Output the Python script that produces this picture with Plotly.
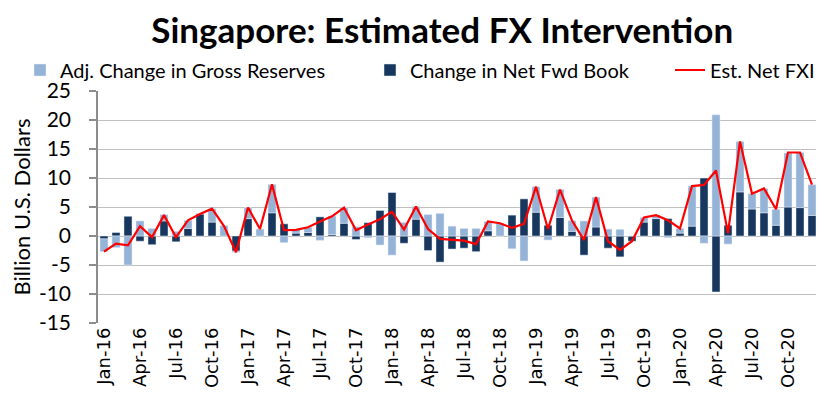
import pandas as pd
import plotly.graph_objects as go

# monthly categories Jan-16 .. Dec-20
months = list(pd.date_range("2016-01-01", periods=60, freq="MS").strftime("%b-%y"))
tick_months = months[::3]
y_ticks = [-15, -10, -5, 0, 5, 10, 15, 20, 25]

# Change in Net Fwd Book (bn USD)
net_fwd = [
    -0.5, 0.6, 3.4, -0.9, -1.5, 2.6, -1.0, 1.3, 3.8, 2.4, 0.0, -2.6,
    3.0, 0.0, 4.0, 2.1, 0.5, 0.6, 3.3, 0.25, 2.2, -0.6, 2.3, 4.4,
    7.5, -1.25, 2.9, -2.5, -4.5, -2.25, -2.1, -2.7, 0.9, 0.0, 3.6, 6.4,
    4.1, 1.85, 3.2, 0.8, -3.3, 1.55, -2.1, -3.6, -0.9, 2.4, 3.0, 3.0,
    0.5, 1.7, 10.0, -9.65, 1.85, 7.6, 4.65, 4.0, 1.85, 5.0, 4.9, 3.55,
]

# Adj. Change in Gross Reserves (bn USD)
gross_res = [
    -2.2, -2.0, -5.0, 2.6, 1.3, 1.1, 0.8, 1.4, 0.1, 2.3, 1.8, -0.2,
    1.9, 1.2, 4.9, -1.15, 0.6, 0.9, -0.75, 3.2, 2.7, 1.6, -0.3, -1.55,
    -3.3, 2.35, 2.2, 3.7, 3.9, 1.7, 1.3, 1.3, 1.6, 2.2, -2.2, -4.3,
    4.4, -0.7, 4.85, 1.85, 2.6, 5.15, 1.2, 1.15, 0.0, 0.8, 0.6, -0.3,
    0.8, 6.9, -1.25, 20.9, -1.4, 8.7, 2.65, 4.2, 2.75, 9.3, 9.5, 5.3,
]

# Est. Net FXI (bn USD)
net_fxi = [
    -2.7, -1.3, -1.6, 1.7, -0.2, 3.6, -0.2, 2.7, 3.8, 4.7, 1.7, -2.8,
    4.9, 1.2, 8.9, 1.0, 1.05, 1.5, 2.5, 3.4, 4.9, 1.0, 2.0, 2.9,
    4.2, 1.1, 5.1, 1.2, -0.5, -0.6, -0.8, -1.4, 2.5, 2.2, 1.4, 2.1,
    8.5, 1.2, 8.0, 2.65, -0.7, 6.7, -0.9, -2.4, -0.9, 3.2, 3.6, 2.7,
    1.3, 8.6, 8.8, 11.3, 0.5, 16.3, 7.3, 8.2, 4.6, 14.4, 14.4, 8.85,
]

LIGHT = "#95B3D7"
DARK = "#17375E"
GRAY = "#8C8C8C"
GRID = "#C0C0C0"
FONT = "Lato"

fig = go.Figure()

# dark series first so it sits at the bottom of each stack
fig.add_trace(go.Bar(
    x=months, y=net_fwd, name="Change in Net Fwd Book",
    marker_color=DARK, legend="legend2",
))
fig.add_trace(go.Bar(
    x=months, y=gross_res, name="Adj. Change in Gross Reserves",
    marker_color=LIGHT, legend="legend",
))
fig.add_trace(go.Scatter(
    x=months, y=net_fxi, name="Est. Net FXI", mode="lines",
    line=dict(color="#FF0000", width=2.2), legend="legend3",
))

# boundary ticks every quarter on the zero axis
boundary_ticks = [i - 0.5 for i in range(0, len(months) + 1, 3)]


def legend_at(x_px):
    return dict(
        orientation="h", x=x_px / 824, xanchor="left", xref="container",
        y=1 - 62 / 402, yanchor="middle", yref="container",
        font=dict(size=20, family=FONT), itemwidth=30,
        bgcolor="rgba(0,0,0,0)", borderwidth=0,
    )


fig.update_layout(
    width=824, height=402,
    barmode="relative", bargap=0.33,
    plot_bgcolor="white", paper_bgcolor="white",
    margin=dict(l=90, r=14, t=83, b=87, autoexpand=False),
    font=dict(family=FONT, color="black"),
    title=dict(
        text="<b>Singapore: Estimated FX Intervention</b>",
        x=0.527, xanchor="center", y=1 - 23 / 402, yanchor="middle",
        yref="container", font=dict(size=35, family=FONT),
    ),
    legend=legend_at(12),
    legend2=legend_at(362),
    legend3=legend_at(662),
    showlegend=True,
    xaxis=dict(
        type="category", range=[-0.5, 59.5], automargin=False,
        tickmode="array", tickvals=tick_months, ticktext=tick_months,
        tickangle=-90, ticks="", showline=False, showgrid=False,
        tickfont=dict(size=18, family="DejaVu Sans"),
    ),
    xaxis2=dict(
        overlaying="x", anchor="free", position=15 / 40,
        range=[-0.5, 59.5], showline=True, linecolor=GRAY, linewidth=1.5,
        ticks="outside", ticklen=6, tickwidth=1.5, tickcolor=GRAY,
        tickmode="array", tickvals=boundary_ticks,
        showticklabels=False, showgrid=False, zeroline=False,
    ),
    yaxis=dict(
        range=[-15, 25], automargin=False,
        tickmode="array", tickvals=y_ticks, ticktext=[str(v) for v in y_ticks],
        showgrid=True, gridcolor=GRID, gridwidth=1.3,
        showline=True, linecolor=GRAY, linewidth=1.5,
        ticks="outside", ticklen=7, tickcolor=GRAY, tickwidth=1.5,
        ticklabelstandoff=14,
        zeroline=False,
        tickfont=dict(size=21, family=FONT),
        title=dict(text="Billion U.S. Dollars", font=dict(size=22, family=FONT), standoff=3),
    ),
)

fig.write_html("out.html")
